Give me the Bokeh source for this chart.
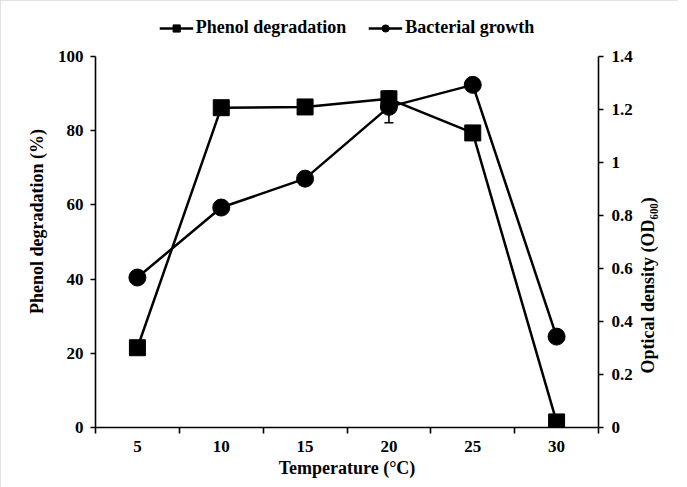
import math
from bokeh.plotting import figure
from bokeh.models import (Range1d, LinearAxis, FixedTicker, Legend, LegendItem,
                          Whisker, ColumnDataSource, TeeHead)
from bokeh.embed import file_html
from bokeh.resources import INLINE

# ---- data ----
temps = ["5", "10", "15", "20", "25", "30"]
phenol = [21.5, 86.2, 86.4, 88.6, 79.4, 1.5]
od600 = [0.566, 0.830, 0.939, 1.21, 1.293, 0.343]
od_err = [0.0, 0.0, 0.0, 0.06, 0.0, 0.0]
left_ticks = [0, 20, 40, 60, 80, 100]
right_ticks = [0, 0.2, 0.4, 0.6, 0.8, 1, 1.2, 1.4]

FONT = "Liberation Serif"
x = list(range(1, len(temps) + 1))

# the frame extends above the axes' top (100 / 1.4) to hold the legend
LEFT_MAX, RIGHT_MAX = 100, 1.4
HEADROOM = 1.1105
p = figure(frame_width=503, frame_height=412, output_backend="svg",
           toolbar_location=None, title=None,
           x_range=Range1d(0.5, len(temps) + 0.5),
           y_range=Range1d(0, LEFT_MAX * HEADROOM),
           min_border_left=95, min_border_right=80, min_border_top=15,
           min_border_bottom=60)
p.styles = {"outline": "1px solid #d9d9d9", "outline-offset": "-1px"}
p.outline_line_color = None
p.xgrid.grid_line_color = None
p.ygrid.grid_line_color = None
p.extra_y_ranges = {"od": Range1d(0, RIGHT_MAX * HEADROOM)}

def style_axis(ax):
    ax.axis_line_color = "black"
    ax.axis_line_width = 1.6
    ax.major_tick_line_color = "black"
    ax.major_tick_line_width = 1.6
    ax.major_label_text_font = FONT
    ax.major_label_text_font_style = "bold"
    ax.major_label_text_font_size = "17px"
    ax.major_label_text_color = "black"
    ax.axis_label_text_font = FONT
    ax.axis_label_text_font_style = "bold"
    ax.axis_label_text_font_size = "18px"
    ax.axis_label_text_color = "black"

# x axis
xa = p.xaxis[0]
style_axis(xa)
xa.ticker = FixedTicker(ticks=x, minor_ticks=[i + 0.5 for i in range(len(temps) + 1)])
xa.major_label_overrides = {float(xi): t for xi, t in zip(x, temps)}
xa.major_tick_out = 0
xa.major_tick_in = 0
xa.minor_tick_out = 6
xa.minor_tick_in = 0
xa.minor_tick_line_color = "black"
xa.minor_tick_line_width = 1.6
xa.major_label_standoff = 7
xa.axis_label = "Temperature (°C)"
xa.axis_label_standoff = 3

# left axis
ya = p.yaxis[0]
style_axis(ya)
ya.bounds = (0, LEFT_MAX)
ya.ticker = FixedTicker(ticks=left_ticks)
ya.major_tick_out = 5
ya.major_tick_in = 0
ya.minor_tick_line_color = None
ya.major_label_standoff = 7
ya.axis_label = "Phenol degradation (%)"
ya.axis_label_standoff = 8

# right axis
RIGHT_LABEL = "Optical density (OD₆₀₀)"
ra = LinearAxis(y_range_name="od", ticker=FixedTicker(ticks=right_ticks))
style_axis(ra)
ra.bounds = (0, RIGHT_MAX)
ra.major_label_overrides = {float(t): f"{t:g}" for t in right_ticks}
ra.major_tick_out = 5
ra.major_tick_in = 0
ra.minor_tick_line_color = None
ra.major_label_standoff = 8
ra.axis_label = RIGHT_LABEL
ra.axis_label_standoff = 12
try:
    ra.axis_label_orientation = math.pi / 2
    try:
        ra.axis_label_align = "start"
        ra.axis_label = "\u00a0" * 12 + RIGHT_LABEL
    except Exception:
        pass
except Exception:
    pass
p.add_layout(ra, "right")

# error bars (only the visible one)
ex = [xi for xi, e in zip(x, od_err) if e > 0]
elo = [v - e for v, e in zip(od600, od_err) if e > 0]
ehi = [v + e for v, e in zip(od600, od_err) if e > 0]
wsrc = ColumnDataSource(dict(base=ex, lower=elo, upper=ehi))
w = Whisker(source=wsrc, base="base", lower="lower", upper="upper",
            y_range_name="od", line_color="black", line_width=1.6,
            upper_head=TeeHead(size=9, line_color="black", line_width=1.6),
            lower_head=TeeHead(size=9, line_color="black", line_width=1.6),
            level="underlay")
p.add_layout(w)

# bacterial growth
l_od = p.line(x, od600, y_range_name="od", line_color="black", line_width=2.5)
c_od = p.scatter(x, od600, y_range_name="od", marker="circle", size=17,
                 fill_color="black", line_color="black")
# phenol degradation
l_ph = p.line(x, phenol, line_color="black", line_width=2.5)
s_ph = p.scatter(x, phenol, marker="square", size=16,
                 fill_color="black", line_color="black")

legend = Legend(items=[LegendItem(label="Phenol degradation", renderers=[l_ph, s_ph]),
                       LegendItem(label="Bacterial growth", renderers=[l_od, c_od])],
                orientation="horizontal", location="top_center",
                border_line_color=None, background_fill_alpha=0,
                label_text_font=FONT, label_text_font_style="bold",
                label_text_font_size="18px", label_text_color="black",
                glyph_width=34, glyph_height=18,
                spacing=22, padding=0, margin=2, label_standoff=3)
p.add_layout(legend)

open("out.html", "w").write(file_html(p, INLINE))
